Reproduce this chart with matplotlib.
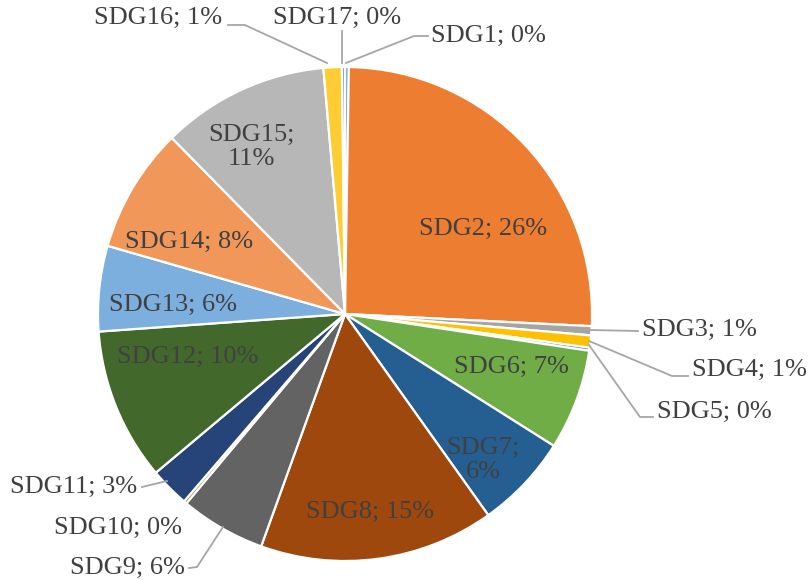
import numpy as np
import matplotlib
matplotlib.use("Agg")
import matplotlib.pyplot as plt

# ---- data ----
categories = ["SDG1", "SDG2", "SDG3", "SDG4", "SDG5", "SDG6", "SDG7", "SDG8", "SDG9",
              "SDG10", "SDG11", "SDG12", "SDG13", "SDG14", "SDG15", "SDG16", "SDG17"]
shares = [0.25, 25.6, 0.6, 0.8, 0.2, 6.6, 6.2, 15.4, 5.6,
          0.2, 2.6, 10.0, 5.6, 8.2, 11.0, 1.2, 0.2]
pct_labels = [0, 26, 1, 1, 0, 7, 6, 15, 6, 0, 3, 10, 6, 8, 11, 1, 0]

colors = ["#5B9BD5", "#ED7D31", "#A5A5A5", "#FFC000", "#4472C4", "#70AD47",
          "#255E91", "#9E480E", "#636363", "#997300", "#264478", "#43682B",
          "#7CAFDD", "#F1975A", "#B7B7B7", "#FFCD33", "#698ED0"]

W, H = 809, 580
CX, CY, R = 345, 314, 247

fig = plt.figure(figsize=(W / 100, H / 100), dpi=100)
ax = fig.add_axes([(CX - R) / W, (H - CY - R) / H, 2 * R / W, 2 * R / H])
wedges, _ = ax.pie(shares, colors=colors, startangle=90, counterclock=False,
                   wedgeprops=dict(edgecolor="white", linewidth=1.6))
ax.set_xlim(-1, 1)
ax.set_ylim(-1, 1)
ax.set_aspect("auto")
ax.axis("off")


def p2d(px, py):
    return (px - CX) / R, (CY - py) / R


# ---- label layout (pixel positions of text anchors) ----
inside = {
    "SDG2": (483, 229, False),
    "SDG6": (511, 367, False),
    "SDG7": (483, 460, True),
    "SDG8": (370, 512, False),
    "SDG12": (188, 357, False),
    "SDG13": (173, 305, False),
    "SDG14": (189, 242, False),
    "SDG15": (251, 147, True),
}
outside = {
    "SDG1": ((431, 36), "left", [(346, 63), (414, 36), (428, 36)]),
    "SDG17": ((337, 18), "center", [(342, 63), (342, 31)]),
    "SDG16": ((222, 18), "right", [(327, 63), (245, 25), (228, 25)]),
    "SDG3": ((642, 330), "left", [(589, 330), (638, 331)]),
    "SDG4": ((692, 370), "left", [(589, 341), (672, 376), (688, 376)]),
    "SDG5": ((657, 412), "left", [(589, 345), (640, 417), (653, 417)]),
    "SDG11": ((137, 487), "right", [(167, 481), (142, 487)]),
    "SDG10": ((182, 528), "right", None),
    "SDG9": ((185, 568), "right", [(223, 527), (197, 567), (189, 568)]),
}

font = dict(family=["Liberation Serif", "DejaVu Serif"], fontsize=19, color="#404040")
for cat, pct in zip(categories, pct_labels):
    if cat in inside:
        px, py, two = inside[cat]
        sep = ";\n" if two else "; "
        x, y = p2d(px, py)
        ax.text(x, y, f"{cat}{sep}{pct}%", ha="center", va="center",
                multialignment="center", linespacing=1.1, **font)
    elif cat in outside:
        (px, py), ha, line = outside[cat]
        x, y = p2d(px, py)
        ax.text(x, y, f"{cat}; {pct}%", ha=ha, va="center", clip_on=False, **font)
        if line:
            pts = np.array([p2d(*p) for p in line])
            ax.plot(pts[:, 0], pts[:, 1], color="#A6A6A6", lw=1.3, clip_on=False)

fig.savefig("out.png", dpi=100, facecolor="white")
